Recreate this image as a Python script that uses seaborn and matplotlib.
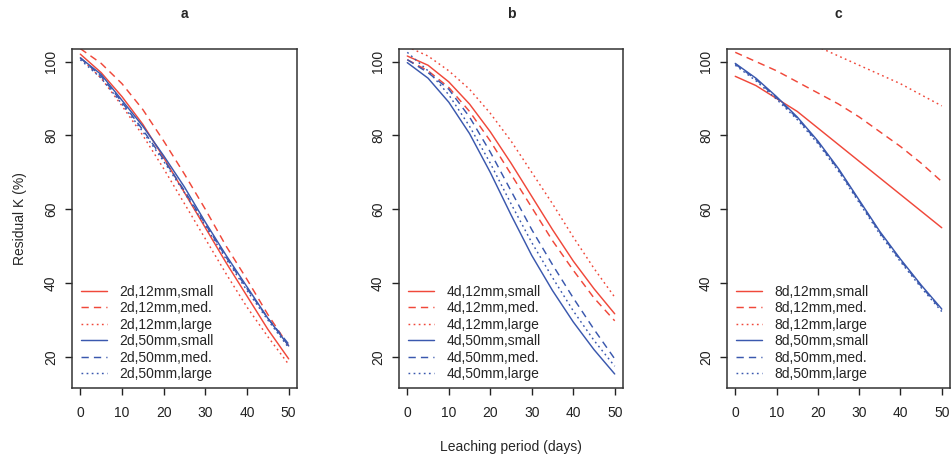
import numpy as np
import pandas as pd
import matplotlib
matplotlib.use("Agg")
import matplotlib.pyplot as plt
import seaborn as sns

################################
# data
################################

days = [0, 5, 10, 15, 20, 25, 30, 35, 40, 45, 50]

# panel a : 2 day interval
a_12_small = [102, 97, 90.5, 83, 74, 64.5, 55, 45.5, 36.5, 27.5, 19.5]
a_12_med = [103.5, 99.5, 94, 87, 78.5, 69.5, 60, 50, 41, 31.5, 23]
a_12_large = [101, 95.5, 88, 80, 71, 61.5, 52, 42.5, 33.5, 25.5, 18]
a_50_small = [101, 96.5, 89.5, 82.5, 74.5, 66, 56.5, 47.5, 39, 30.5, 23]
a_50_med = [101, 96, 89, 81.5, 73.5, 65, 56, 47, 38.5, 30.5, 23.5]
a_50_large = [100.5, 95.5, 88.5, 81, 73, 64.5, 55.5, 46.5, 38, 30, 22.5]

# panel b : 4 day interval
b_12_small = [101.5, 99, 94.5, 88.5, 81, 72.5, 63.5, 54.5, 46, 38.5, 31.7]
b_12_med = [100.5, 97.5, 93, 86.5, 78.5, 69.5, 60.5, 51.5, 43.5, 36, 29.8]
b_12_large = [104, 101.5, 97.5, 92.5, 86, 78.5, 70, 61.5, 52.5, 44, 36.2]
b_50_small = [99.7, 95.5, 89, 80.5, 70, 58.5, 47.5, 38, 29.5, 22, 15.4]
b_50_med = [100.5, 97, 92.5, 85, 75.5, 65, 54.5, 45, 36, 27.5, 19.5]
b_50_large = [102.5, 97.5, 91, 82.5, 72.5, 61.5, 51, 41.5, 32.5, 24.5, 17.5]

# panel c : 8 day interval
c_12_small = [96, 93.5, 90, 86.5, 82, 77.5, 73, 68.5, 64, 59.5, 55]
c_12_med = [102.5, 100, 97.5, 94.5, 91.5, 88.5, 85, 81, 77, 72.5, 67.5]
c_12_large = [112, 110.5, 108.5, 106.5, 104, 101.5, 99, 96.5, 94, 91, 88]
c_50_small = [99.5, 95.5, 90.5, 85, 78.5, 71, 62.5, 54, 46.5, 39.5, 33]
c_50_med = [99.3, 95.2, 90.2, 84.7, 78.2, 70.7, 62.2, 53.7, 46.2, 39.2, 32.7]
c_50_large = [99, 94.8, 89.8, 84.3, 77.8, 70.3, 61.8, 53.3, 45.8, 38.8, 32.3]

panels = ["a", "b", "c"]
intervals = ["2d", "4d", "8d"]
series = {
    "a": [a_12_small, a_12_med, a_12_large, a_50_small, a_50_med, a_50_large],
    "b": [b_12_small, b_12_med, b_12_large, b_50_small, b_50_med, b_50_large],
    "c": [c_12_small, c_12_med, c_12_large, c_50_small, c_50_med, c_50_large],
}
meshes = ["12mm", "12mm", "12mm", "50mm", "50mm", "50mm"]
sizes = ["small", "med.", "large", "small", "med.", "large"]

################################
# style
################################

sns.set_style("ticks")
plt.rcParams["font.family"] = ["Liberation Sans", "DejaVu Sans"]
plt.rcParams["font.size"] = 10

red = "#f0483a"
blue = "#3a58ae"
colors = {"12mm": red, "50mm": blue}
styles = {"small": "-", "med.": (0, (5, 3.5)), "large": (0, (1.2, 2.3))}

fig = plt.figure(figsize=(9.51, 4.58), dpi=100)
W, H = 951, 458
lefts = [72, 399, 727]
widths = [225, 224, 223]
top, bottom = 49, 388

for i, p in enumerate(panels):
    ax = fig.add_axes([lefts[i] / W, 1 - bottom / H, widths[i] / W, (bottom - top) / H])
    for vals, mesh, size in zip(series[p], meshes, sizes):
        sns.lineplot(x=days, y=vals, ax=ax, color=colors[mesh], linestyle=styles[size],
                     lw=1.05, label=f"{intervals[i]},{mesh},{size}")

    ax.set_xlim(-2, 52)
    ax.set_ylim(11.6, 103.4)
    ax.set_xticks([0, 10, 20, 30, 40, 50])
    ax.set_yticks([20, 40, 60, 80, 100])
    ax.tick_params(axis="both", direction="out", length=5, width=1.0, colors="#222222",
                   labelsize=10, labelcolor="#222222")
    ax.tick_params(axis="x", pad=8)
    ax.tick_params(axis="y", pad=5)
    for lab in ax.get_yticklabels():
        lab.set_rotation(90)
        lab.set_va("center")
    for s in ax.spines.values():
        s.set_visible(True)
        s.set_color("#333333")
        s.set_linewidth(1.1)
    ax.set_title(p, fontweight="bold", fontsize=10, pad=22)
    ax.set_xlabel("")
    ax.set_ylabel("")
    ax.legend(loc="lower left", bbox_to_anchor=(0.04, 0.02), frameon=False,
              borderpad=0, borderaxespad=0, handlelength=1.9, handletextpad=0.85,
              labelspacing=0.18, fontsize=10)
    if i == 0:
        ax.set_ylabel("Residual K (%)", labelpad=12)

fig.text(511 / W, 1 - 446.7 / H, "Leaching period (days)", ha="center", va="center",
         fontsize=10)

plt.savefig("out.png", dpi=100)
